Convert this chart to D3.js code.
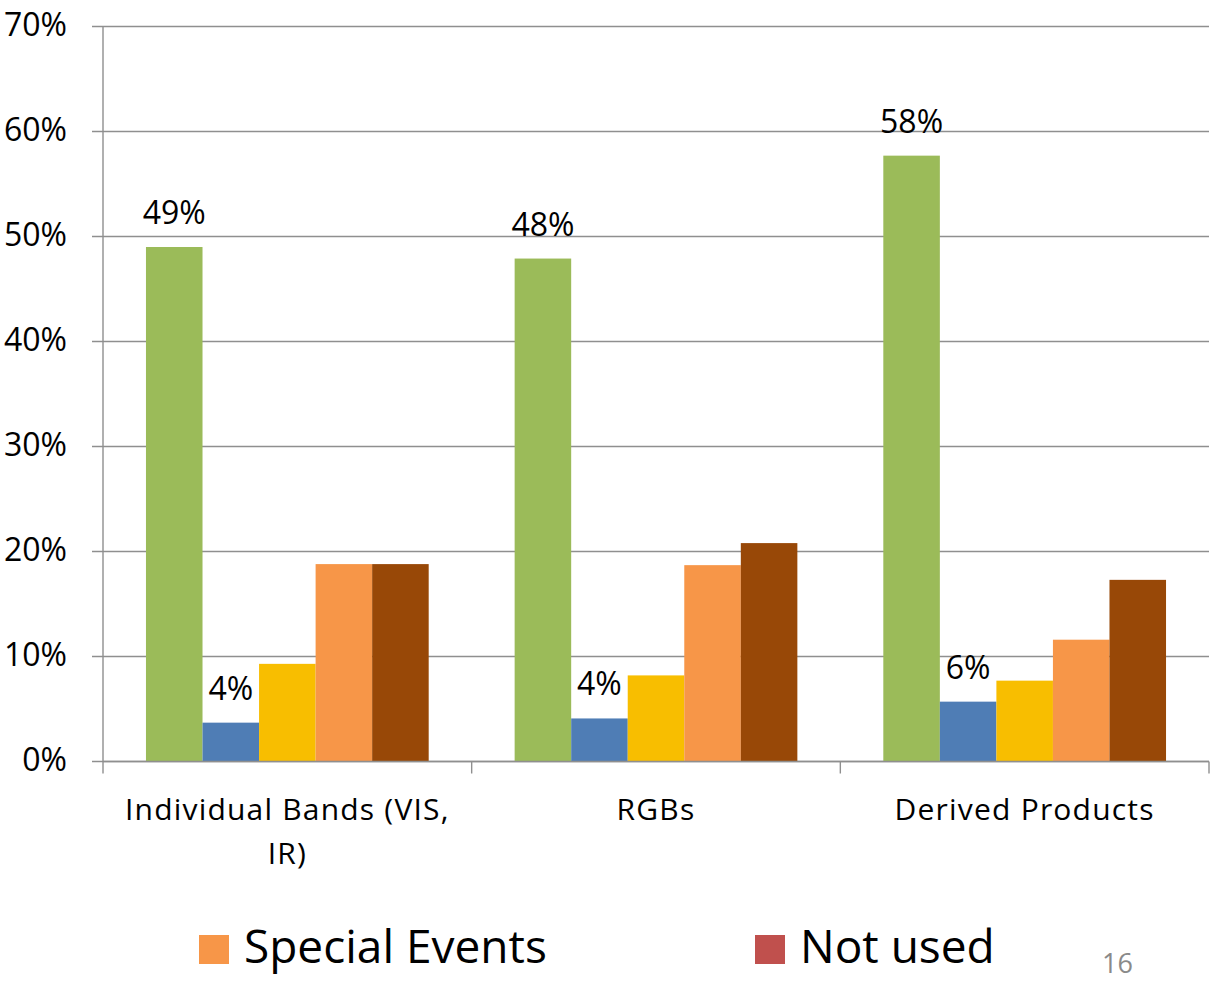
<!DOCTYPE html>
<html>
<head>
<meta charset="utf-8">
<script src="https://cdn.jsdelivr.net/npm/d3@7"></script>
<style>
  html, body { margin: 0; padding: 0; background: #fff; }
  svg { display: block; }
  text { font-family: "Open Sans", "Noto Sans", sans-serif; }
</style>
</head>
<body>
<svg id="chart" width="1216" height="981"></svg>
<script>
// ---- data ----
const categories = ["Individual Bands (VIS, IR)", "RGBs", "Derived Products"];
const seriesKeys = ["s1", "s2", "s3", "s4", "s5"];
const series1 = [49.0, 47.9, 57.7];   // green
const series2 = [3.7, 4.1, 5.7];      // blue
const series3 = [9.3, 8.2, 7.7];      // yellow
const series4 = [18.8, 18.7, 11.6];   // orange (Special Events)
const series5 = [18.8, 20.8, 17.3];   // brown
const labelledSeries = ["s1", "s2"];
const yTicks = [0, 10, 20, 30, 40, 50, 60, 70];
const legendNames = ["Special Events", "Not used"];
const pageNumber = "16";

const seriesValues = { s1: series1, s2: series2, s3: series3, s4: series4, s5: series5 };
const colors = { s1: "#9BBB59", s2: "#4F7DB5", s3: "#F8BE00", s4: "#F79648", s5: "#984807" };
const legendColors = ["#F79648", "#C0504D"];

const svg = d3.select("#chart");

const x0 = d3.scaleBand().domain(categories).range([103, 1209]).padding(0);
const x1 = d3.scaleBand().domain(seriesKeys).range([0, x0.bandwidth()]).paddingInner(0).paddingOuter(0.76);
const y = d3.scaleLinear().domain([0, 70]).range([761.5, 26.5]);

// gridlines
svg.append("g").selectAll("line").data(yTicks).join("line")
  .attr("x1", 92).attr("x2", 1209)
  .attr("y1", d => y(d)).attr("y2", d => y(d))
  .attr("stroke", "#8f8f8f").attr("stroke-width", 1.4);

// y axis line
svg.append("line").attr("x1", 103).attr("x2", 103).attr("y1", y(70)).attr("y2", y(0))
  .attr("stroke", "#8f8f8f").attr("stroke-width", 1.4);

// y tick labels
svg.append("g").selectAll("text").data(yTicks).join("text")
  .attr("x", 67).attr("y", d => y(d) + 9)
  .attr("text-anchor", "end")
  .attr("font-size", 32).attr("fill", "#000")
  .text(d => d3.format(".0%")(d / 100));

// bars
const groups = svg.append("g").selectAll("g").data(categories).join("g")
  .attr("transform", d => `translate(${x0(d)},0)`);

groups.selectAll("rect")
  .data((c, i) => seriesKeys.map(k => ({ k, v: seriesValues[k][i] })))
  .join("rect")
  .attr("x", d => x1(d.k))
  .attr("width", x1.bandwidth())
  .attr("y", d => y(d.v))
  .attr("height", d => y(0) - y(d.v))
  .attr("fill", d => colors[d.k]);

// data labels
groups.selectAll("text.lbl")
  .data((c, i) => labelledSeries.map(k => ({ k, v: seriesValues[k][i] })))
  .join("text").attr("class", "lbl")
  .attr("x", d => x1(d.k) + x1.bandwidth() / 2)
  .attr("y", d => y(d.v) - 23)
  .attr("text-anchor", "middle")
  .attr("font-size", 32).attr("fill", "#000")
  .text(d => d3.format(".0%")(Math.round(d.v) / 100));

// x axis line and ticks
svg.append("line").attr("x1", 103).attr("x2", 1209).attr("y1", y(0)).attr("y2", y(0))
  .attr("stroke", "#8f8f8f").attr("stroke-width", 1.4);
const bounds = categories.map(c => x0(c)).concat([x0(categories[categories.length - 1]) + x0.bandwidth()]);
svg.append("g").selectAll("line").data(bounds).join("line")
  .attr("x1", d => d).attr("x2", d => d)
  .attr("y1", y(0)).attr("y2", y(0) + 12)
  .attr("stroke", "#8f8f8f").attr("stroke-width", 1.4);

// category labels with wrapping
const catG = svg.append("g");
categories.forEach(c => {
  const cx = x0(c) + x0.bandwidth() / 2;
  const t = catG.append("text")
    .attr("x", cx).attr("y", 820)
    .attr("text-anchor", "middle")
    .attr("font-size", 30).attr("letter-spacing", 1.2).attr("fill", "#000");
  const words = c.split(" ");
  let line = [];
  let lineNo = 0;
  let tspan = t.append("tspan").attr("x", cx).attr("y", 820);
  words.forEach(w => {
    line.push(w);
    tspan.text(line.join(" "));
    if (tspan.node().getComputedTextLength() > 345 && line.length > 1) {
      line.pop();
      tspan.text(line.join(" "));
      line = [w];
      lineNo++;
      tspan = t.append("tspan").attr("x", cx).attr("y", 820 + lineNo * 44).text(w);
    }
  });
});

// legend
const legendX = [199, 755];
const lg = svg.append("g");
legendNames.forEach((n, i) => {
  lg.append("rect").attr("x", legendX[i]).attr("y", 935).attr("width", 30).attr("height", 29)
    .attr("fill", legendColors[i]);
  lg.append("text").attr("x", legendX[i] + 45).attr("y", 963)
    .attr("font-size", 46).attr("fill", "#000").text(n);
});

// page number
svg.append("text").attr("x", 1102).attr("y", 973)
  .attr("font-size", 27).attr("fill", "#8a8a8a").text(pageNumber);
</script>
</body>
</html>
